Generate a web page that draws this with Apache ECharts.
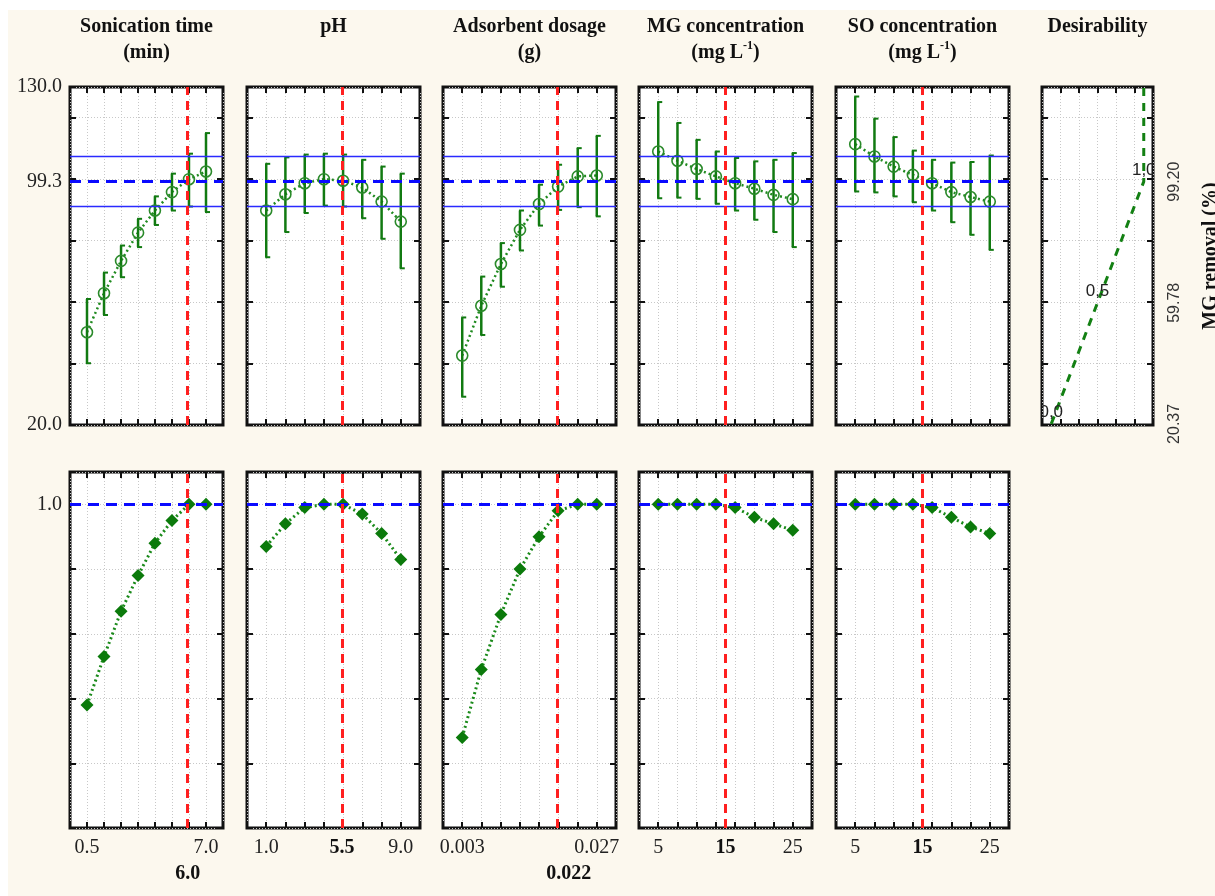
<!DOCTYPE html>
<html>
<head>
<meta charset="utf-8">
<title>Profiles for predicted values and desirability</title>
<script src="https://cdn.jsdelivr.net/npm/echarts@6/dist/echarts.min.js"></script>
<style>
  html, body { margin: 0; padding: 0; background: #fff; }
  #paper { position: absolute; left: 8px; top: 10px; width: 1207px; height: 886px; background: #fcf8ee; }
  #chart { position: absolute; left: 0; top: 0; width: 1215px; height: 896px; }
</style>
</head>
<body>
<div id="paper"></div>
<div id="chart"></div>
<script>
// factor levels
const sonicationLevels = [0.5, 1.43, 2.36, 3.29, 4.21, 5.14, 6.07, 7.0];
const phLevels = [1.0, 2.14, 3.29, 4.43, 5.57, 6.71, 7.86, 9.0];
const dosageLevels = [0.003, 0.0064, 0.0099, 0.0133, 0.0167, 0.0201, 0.0236, 0.027];
const mgLevels = [5, 7.86, 10.71, 13.57, 16.43, 19.29, 22.14, 25];
const soLevels = [5, 7.86, 10.71, 13.57, 16.43, 19.29, 22.14, 25];

// predicted MG removal (%) with confidence limits
const sonicationMean = [50.2, 62.9, 73.4, 82.6, 89.8, 95.8, 100.0, 102.5];
const sonicationLow = [40.1, 55.8, 68.1, 77.9, 85.1, 89.8, 91.1, 89.3];
const sonicationHigh = [61.0, 69.6, 78.4, 87.1, 94.4, 101.8, 108.3, 115.0];

const phMean = [89.8, 95.1, 98.7, 100.0, 99.5, 97.3, 92.7, 86.2];
const phLow = [74.6, 82.8, 89.0, 91.4, 91.1, 87.3, 80.6, 71.0];
const phHigh = [105.0, 107.1, 108.0, 108.3, 108.0, 106.3, 104.1, 101.8];

const dosageMean = [42.6, 58.8, 72.4, 83.5, 91.9, 97.6, 100.9, 101.2];
const dosageLow = [29.2, 49.3, 65.0, 76.8, 84.9, 90.0, 90.9, 87.9];
const dosageHigh = [55.0, 68.3, 79.2, 89.8, 98.2, 104.7, 110.1, 114.1];

const mgMean = [109.0, 106.0, 103.3, 100.9, 98.7, 96.9, 94.9, 93.5];
const mgLow = [93.8, 94.0, 93.6, 92.0, 89.8, 86.8, 82.8, 77.9];
const mgHigh = [125.1, 118.3, 112.8, 109.0, 106.9, 105.8, 106.3, 108.5];

const soMean = [111.4, 107.4, 104.1, 101.4, 98.7, 95.8, 94.2, 92.7];
const soLow = [96.0, 95.7, 94.4, 92.5, 89.8, 86.0, 81.9, 77.0];
const soHigh = [126.9, 119.7, 113.7, 109.3, 106.3, 105.4, 105.6, 107.7];

// desirability values
const sonicationDesir = [0.38, 0.53, 0.67, 0.78, 0.88, 0.95, 1.0, 1.0];
const phDesir = [0.87, 0.94, 0.99, 1.0, 1.0, 0.97, 0.91, 0.83];
const dosageDesir = [0.28, 0.49, 0.66, 0.80, 0.90, 0.98, 1.0, 1.0];
const mgDesir = [1.0, 1.0, 1.0, 1.0, 0.99, 0.96, 0.94, 0.92];
const soDesir = [1.0, 1.0, 1.0, 1.0, 0.99, 0.96, 0.93, 0.91];

// optimum settings
const optimumValues = [6.0, 5.5, 0.022, 15, 15];
const predicted = 99.3;
const upperLimit = 107.5;
const lowerLimit = 91.1;

// desirability function of the response
const desirX = [0, 0.5, 1, 1];
const desirY = [20.37, 59.78, 99.20, 130];
const desirLabels = ['0,0', '0,5', '1,0'];
const desirTicks = [20.37, 59.78, 99.20];

const titles = ['Sonication time\n(min)', 'pH', 'Adsorbent dosage\n(g)',
  'MG concentration\n(mg L{sup|-1})', 'SO concentration\n(mg L{sup|-1})', 'Desirability'];

const factors = [
  {levels: sonicationLevels, mean: sonicationMean, low: sonicationLow, high: sonicationHigh, desir: sonicationDesir, digits: 1, optBelow: true},
  {levels: phLevels, mean: phMean, low: phLow, high: phHigh, desir: phDesir, digits: 1, optBelow: false},
  {levels: dosageLevels, mean: dosageMean, low: dosageLow, high: dosageHigh, desir: dosageDesir, digits: 3, optBelow: true},
  {levels: mgLevels, mean: mgMean, low: mgLow, high: mgHigh, desir: mgDesir, digits: 0, optBelow: false},
  {levels: soLevels, mean: soMean, low: soLow, high: soHigh, desir: soDesir, digits: 0, optBelow: false}
];

const colLeft = [70, 247, 443, 639, 836, 1042];
const colWidth = [153, 173, 173, 173, 173, 111];
const serif = 'Liberation Serif';
const green = '#117a11';

function tickStyle() {
  return {show: true, inside: true, length: 6, lineStyle: {color: '#111', width: 2}};
}
const splitStyle = {show: true, lineStyle: {color: '#c8c8c8', width: 1, type: [1, 2]}};
const noLine = {show: false, onZero: false};

const grids = [], xAxes = [], yAxes = [], series = [];

function addGrid(col, row) {
  grids.push({
    left: colLeft[col], width: colWidth[col],
    top: row === 0 ? 87 : 472, height: row === 0 ? 338 : 356,
    show: true, backgroundColor: '#fff', borderColor: '#111', borderWidth: 3,
    containLabel: false, outerBoundsMode: 'none'
  });
  return grids.length - 1;
}

function addAxes(g, xr, yr, xLabel, yLabel, rightAxis) {
  xAxes.push({gridIndex: g, type: 'value', min: xr[0], max: xr[1], interval: xr[2],
    position: 'bottom', axisLine: noLine, axisTick: tickStyle(), splitLine: splitStyle,
    axisLabel: xLabel || {show: false}});
  xAxes.push({gridIndex: g, type: 'value', min: xr[0], max: xr[1], interval: xr[2],
    position: 'top', axisLine: noLine, axisTick: tickStyle(), splitLine: {show: false},
    axisLabel: {show: false}});
  yAxes.push({gridIndex: g, type: 'value', min: yr[0], max: yr[1], interval: yr[2],
    position: 'left', axisLine: noLine, axisTick: tickStyle(), splitLine: splitStyle,
    axisLabel: yLabel || {show: false}});
  yAxes.push(Object.assign({gridIndex: g, type: 'value', min: yr[0], max: yr[1], interval: yr[2],
    position: 'right', axisLine: noLine, axisTick: tickStyle(), splitLine: {show: false}},
    rightAxis || {axisLabel: {show: false}}));
}

function renderErrorBar(params, api) {
  const x = api.value(0);
  const c = api.coord([x, api.value(1)]);
  const lo = api.coord([x, api.value(2)]);
  const hi = api.coord([x, api.value(3)]);
  const bar = {stroke: green, lineWidth: 2.5};
  return {type: 'group', children: [
    {type: 'line', shape: {x1: lo[0], y1: lo[1], x2: hi[0], y2: hi[1]}, style: bar},
    {type: 'line', shape: {x1: hi[0] - 1, y1: hi[1], x2: hi[0] + 4, y2: hi[1]}, style: {stroke: green, lineWidth: 2}},
    {type: 'line', shape: {x1: lo[0] - 1, y1: lo[1], x2: lo[0] + 4, y2: lo[1]}, style: {stroke: green, lineWidth: 2}},
    {type: 'circle', shape: {cx: c[0], cy: c[1], r: 5.5}, style: {fill: 'none', stroke: '#2a8a2a', lineWidth: 1.6}}
  ]};
}

const redLine = {color: '#ff1f1f', width: 3, type: [9, 6]};
const blueDash = {color: '#0a0aff', width: 3, type: [11, 7]};
const blueSolid = {color: '#2a2aff', width: 1.3, type: 'solid'};

// top row: predicted response profiles
factors.forEach((f, i) => {
  const step = (f.levels[7] - f.levels[0]) / 7;
  const xr = [f.levels[0] - step, f.levels[7] + step, step];
  const g = addGrid(i, 0);
  const yLabel = i === 0 ? {show: true, customValues: [20, predicted, 130], margin: 8,
    formatter: v => v.toFixed(1), fontFamily: serif, fontSize: 20, color: '#222'} : null;
  addAxes(g, xr, [20, 130, 20], null, yLabel);
  series.push({
    type: 'line', xAxisIndex: 2 * g, yAxisIndex: 2 * g, z: 3,
    data: f.levels.map((x, k) => [x, f.mean[k]]),
    symbol: 'none', lineStyle: {color: '#1f8a1f', width: 2.5, type: [2, 3]},
    markLine: {silent: true, symbol: ['none', 'none'], label: {show: false}, animation: false,
      data: [
        {yAxis: predicted, lineStyle: blueDash},
        {yAxis: upperLimit, lineStyle: blueSolid},
        {yAxis: lowerLimit, lineStyle: blueSolid},
        {xAxis: optimumValues[i], lineStyle: redLine}
      ]}
  });
  series.push({
    type: 'custom', xAxisIndex: 2 * g, yAxisIndex: 2 * g, z: 4,
    renderItem: renderErrorBar,
    data: f.levels.map((x, k) => [x, f.mean[k], f.low[k], f.high[k]])
  });
});

// desirability function panel
const gd = addGrid(5, 0);
addAxes(gd, [-0.1, 1.1, 0.2], [20, 130, 20], null, null, {
  axisLabel: {show: true, customValues: desirTicks, rotate: 90, margin: 14,
    formatter: v => v.toFixed(2), fontFamily: 'Liberation Sans', fontSize: 16, color: '#333'},
  name: 'MG removal (%)', nameLocation: 'middle', nameRotate: 90, nameGap: 48,
  nameTextStyle: {fontFamily: serif, fontWeight: 'bold', fontSize: 20, color: '#111'}
});
series.push({
  type: 'line', xAxisIndex: 2 * gd, yAxisIndex: 2 * gd, z: 3,
  data: desirX.map((x, k) => [x, desirY[k]]),
  symbol: 'none', lineStyle: {color: '#138013', width: 3, type: [8, 7]}
});
series.push({
  type: 'custom', xAxisIndex: 2 * gd, yAxisIndex: 2 * gd, z: 5, clip: true,
  data: desirLabels.map((t, k) => [desirX[k], desirY[k]]),
  renderItem: (params, api) => {
    const p = api.coord([api.value(0), api.value(1)]);
    return {type: 'text', x: p[0], y: p[1] - 3, style: {
      text: desirLabels[params.dataIndex], fill: '#222', fontSize: 17,
      fontFamily: 'Liberation Sans', align: 'center', verticalAlign: 'bottom'}};
  }
});

// bottom row: desirability profiles
factors.forEach((f, i) => {
  const step = (f.levels[7] - f.levels[0]) / 7;
  const xr = [f.levels[0] - step, f.levels[7] + step, step];
  const opt = optimumValues[i];
  const g = addGrid(i, 1);
  const xLabel = {show: true, customValues: [f.levels[0], opt, f.levels[7]], margin: 10,
    fontFamily: serif, fontSize: 20, color: '#222',
    formatter: v => {
      const s = v.toFixed(f.digits);
      if (Math.abs(v - opt) < step / 10) return f.optBelow ? '{ob|' + s + '}' : '{o|' + s + '}';
      return s;
    },
    rich: {
      o: {fontFamily: serif, fontSize: 20, fontWeight: 'bold', color: '#111'},
      ob: {fontFamily: serif, fontSize: 20, fontWeight: 'bold', color: '#111', padding: [26, 0, 0, 0]}
    }};
  const yLabel = i === 0 ? {show: true, customValues: [1.0], margin: 8,
    formatter: v => v.toFixed(1), fontFamily: serif, fontSize: 20, color: '#222'} : null;
  addAxes(g, xr, [0, 1.1, 0.2], xLabel, yLabel);
  series.push({
    type: 'line', xAxisIndex: 2 * g, yAxisIndex: 2 * g, z: 3,
    data: f.levels.map((x, k) => [x, f.desir[k]]),
    symbol: 'diamond', symbolSize: 13, itemStyle: {color: '#0b7a0b'},
    lineStyle: {color: '#1a8a1a', width: 3, type: [2, 3]},
    markLine: {silent: true, symbol: ['none', 'none'], label: {show: false}, animation: false,
      data: [
        {yAxis: 1.0, lineStyle: blueDash},
        {xAxis: opt, lineStyle: redLine}
      ]}
  });
});

const titleStyle = {fontFamily: serif, fontWeight: 'bold', fontSize: 20, lineHeight: 26, color: '#111',
  rich: {sup: {fontFamily: serif, fontWeight: 'bold', fontSize: 12, lineHeight: 12, verticalAlign: 'top', color: '#111'}}};

const chart = echarts.init(document.getElementById('chart'));
chart.setOption({
  animation: false,
  backgroundColor: 'transparent',
  title: titles.map((t, i) => ({
    text: t, left: colLeft[i] + colWidth[i] / 2, top: 14, textAlign: 'center', padding: 0,
    textStyle: titleStyle
  })),
  grid: grids,
  xAxis: xAxes,
  yAxis: yAxes,
  series: series
});
</script>
</body>
</html>
